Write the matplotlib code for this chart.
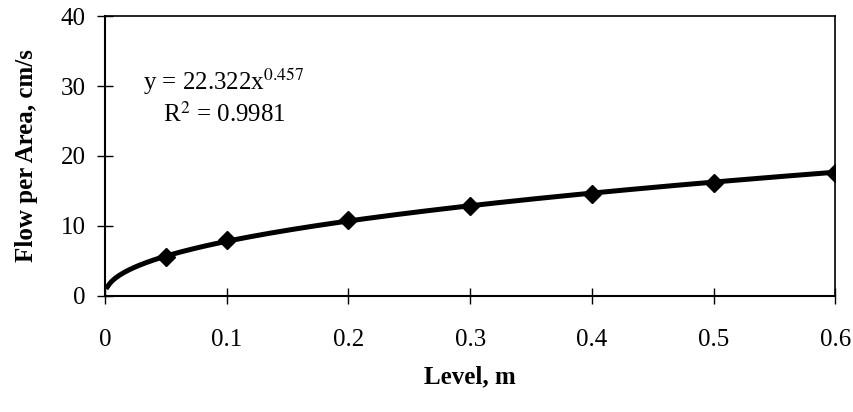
import numpy as np
import matplotlib.pyplot as plt

plt.rcParams['font.family'] = ['Liberation Serif', 'DejaVu Serif']
plt.rcParams['mathtext.fontset'] = 'stix'

# Данные: уровень и расход на площадь
level = [0.05, 0.1, 0.2, 0.3, 0.4, 0.5, 0.6]
flow = [5.6, 8.0, 10.8, 12.9, 14.5, 16.1, 17.5]

# Коэффициенты степенной аппроксимации (как на графике)
coef_a = 22.322
coef_b = 0.457

fs = 18

fig = plt.figure(figsize=(8.54, 4.12), dpi=100)
ax = fig.add_axes([0.123, 0.282, 0.855, 0.679])

# Линия тренда
xs = np.linspace(0.002, 0.6, 300)
ax.plot(xs, coef_a * xs ** coef_b, color='black', linewidth=3.6, zorder=2)
ax.plot(level, flow, linestyle='none', marker='D', markersize=9,
        color='black', zorder=3)

ax.set_xlim(0, 0.6)
ax.set_ylim(0, 40)
ax.set_xticks([0, 0.1, 0.2, 0.3, 0.4, 0.5, 0.6])
ax.set_xticklabels(['0', '0.1', '0.2', '0.3', '0.4', '0.5', '0.6'])
ax.set_yticks([0, 10, 20, 30, 40])

ax.tick_params(axis='both', direction='inout', length=12, width=1,
               labelsize=fs)
ax.tick_params(axis='x', pad=18)
ax.tick_params(axis='y', pad=8)

for side in ['left', 'bottom']:
    ax.spines[side].set_linewidth(1.5)
for side in ['top', 'right']:
    ax.spines[side].set_linewidth(1.2)

ax.set_xlabel('Level, m', fontsize=fs, fontweight='bold', labelpad=10)
ax.set_ylabel('Flow per Area, cm/s', fontsize=fs, fontweight='bold',
              labelpad=16)

ax.text(0.031, 30.6, r'y = 22.322x$^{0.457}$', fontsize=fs,
        ha='left', va='center')
ax.text(0.048, 26.0, r'R$^{2}$ = 0.9981', fontsize=fs,
        ha='left', va='center')

fig.savefig('out.png', dpi=100)
